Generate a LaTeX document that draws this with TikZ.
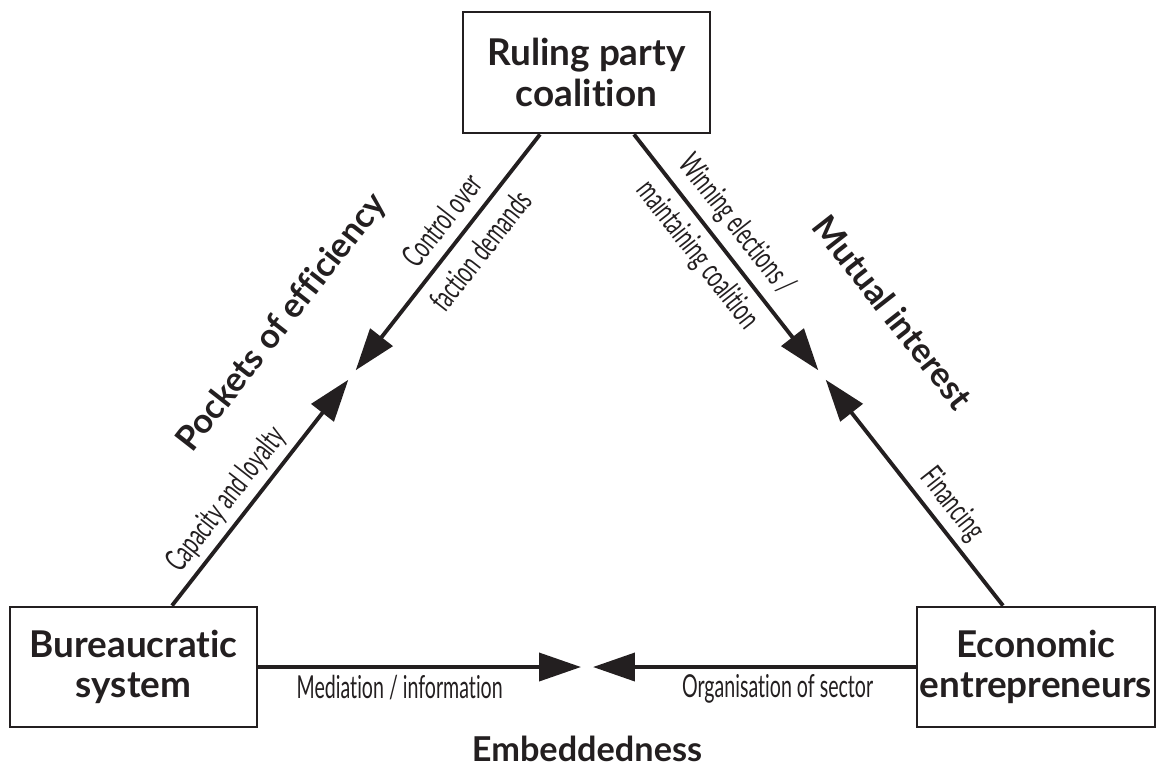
\documentclass[tikz,border=0pt]{standalone}
\usepackage{fontspec}
\setmainfont{Lato}[Ligatures={NoCommon}]
\newfontfamily\narrowfont{Lato}[FakeStretch=0.62,Ligatures={NoCommon}]
\usetikzlibrary{arrows.meta,calc}
\definecolor{ink}{HTML}{231F20}

\begin{document}
\begin{tikzpicture}[x=0.02cm,y=-0.02cm,ink,
  box/.style={draw,line width=1.6pt,align=center,inner sep=0pt,
    font=\fontsize{21}{23}\selectfont\bfseries},
  arr/.style={line width=2.2pt,shorten >=0.12cm,
    -{Triangle[length=0.84cm,width=0.56cm]}},
  lbl/.style={font=\narrowfont\fontsize{18}{28}\selectfont},
  ttl/.style={font=\fontsize{19.5}{23}\selectfont\bfseries}]
\useasboundingbox (0,0) rectangle (1159,769);
% the three actors
\node[box,minimum width=4.94cm,minimum height=2.42cm] (rpc) at (586.5,72.5) {Ruling party\\coalition};
\node[box,minimum width=4.94cm,minimum height=2.4cm] (bur) at (133.5,667) {Bureaucratic\\system};
\node[box,minimum width=4.76cm,minimum height=2.4cm] (eco) at (1036,667) {Economic\\entrepreneurs};
% meeting points between the arrow tips
\coordinate (lmid) at (352,375);
\coordinate (rmid) at (822,375);
\coordinate (bmid) at (587,667);
% left side
\draw[arr] ([xshift=-0.93cm]rpc.south) -- node[lbl,sloped,align=center,pos=0.42] (cof) {Control over\\faction demands} (lmid);
\draw[arr] ([xshift=0.77cm]bur.north) -- node[lbl,sloped,above,pos=0.40] (cal) {Capacity and loyalty} (lmid);
% right side
\draw[arr] ([xshift=0.95cm]rpc.south) -- node[lbl,sloped,align=center,pos=0.44] (wel) {Winning elections /\\maintaining coalition} (rmid);
\draw[arr] ([xshift=-0.66cm]eco.north) -- node[lbl,sloped,above,pos=0.38] (fin) {Financing} (rmid);
% bottom side
\draw[arr] (bur.east) -- node[lbl,below,pos=0.43] (med) {Mediation / information} (bmid);
\draw[arr] (eco.west) -- node[lbl,below,pos=0.42] (org) {Organisation of sector} (bmid);
% names of the three links
\node[ttl,rotate=52] (poe) at (282,323) {Pockets of efficiency};
\node[ttl,rotate=-52] (mut) at (893,312) {Mutual interest};
\node[ttl] (emb) at (587,749) {Embeddedness};
\end{tikzpicture}
\end{document}
